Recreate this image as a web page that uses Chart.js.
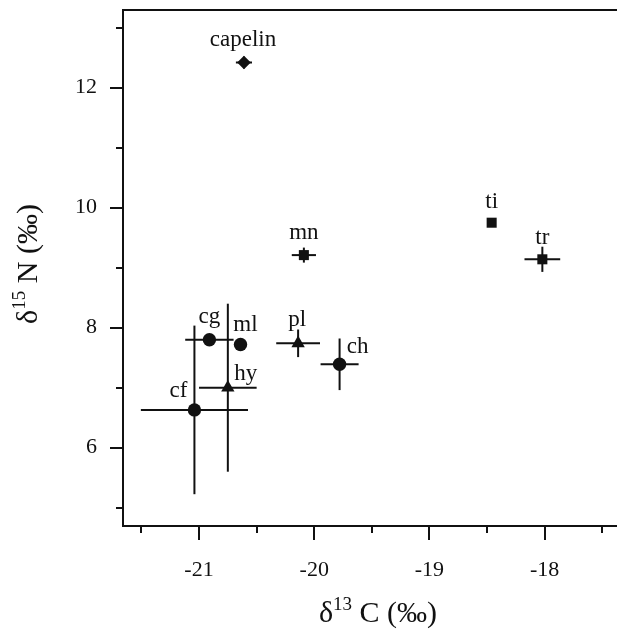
<!DOCTYPE html>
<html>
<head>
<meta charset="utf-8">
<script src="https://cdn.jsdelivr.net/npm/chart.js@4.4.0/dist/chart.umd.min.js"></script>
<style>
html, body { margin: 0; padding: 0; background: #fff; overflow: hidden; }
canvas { display: block; }
</style>
</head>
<body>
<canvas id="isotope-canvas" width="617" height="630" style="width:617px;height:630px"></canvas>
<script>
var species = ["capelin", "mn", "ti", "tr", "cg", "ml", "hy", "cf", "pl", "ch"];
var carbon = [-20.61, -20.09, -18.46, -18.02, -20.91, -20.64, -20.75, -21.04, -20.14, -19.78];
var nitrogen = [12.42, 9.21, 9.75, 9.14, 7.80, 7.72, 7.00, 6.63, 7.74, 7.39];
var carbonErr = [0.07, 0.105, 0, 0.155, 0.21, 0, 0.25, 0.465, 0.19, 0.165];
var nitrogenErr = [0.1, 0.125, 0, 0.21, 0, 0, 1.40, 1.405, 0.23, 0.43];

var xTicks = [-21, -20, -19, -18];
var xMinorTicks = [-21.5, -20.5, -19.5, -18.5, -17.5];
var yTicks = [6, 8, 10, 12];
var yMinorTicks = [5, 7, 9, 11, 13];

var ink = "#111";
var serif = '"Liberation Serif", "Times New Roman", serif';

// marker shape per species
var markerOf = {
    capelin: "rectRot", mn: "rect", ti: "rect", tr: "rect",
    cg: "circle", ml: "circle", cf: "circle", ch: "circle",
    hy: "triangle", pl: "triangle"
};
var markerSize = { circle: 6.7, triangle: 7.7, rect: 7.1, rectRot: 6.8 };

// label offset from the point (px), text baseline
var labelOffset = {
    capelin: [-1, -17], mn: [0, -16], ti: [0, -15], tr: [0, -15],
    cg: [0, -17], ml: [5, -14], hy: [18, -8], cf: [-16, -13],
    pl: [-1, -17], ch: [18, -11]
};

var points = species.map(function(s, i) { return { x: carbon[i], y: nitrogen[i] }; });

var datasets = [{
    label: "species",
    data: points,
    order: 1,
    backgroundColor: ink,
    borderWidth: 0,
    pointStyle: function(c) { return markerOf[species[c.dataIndex]]; },
    pointRadius: function(c) { return markerSize[markerOf[species[c.dataIndex]]]; }
}];

// error bars as short line segments
species.forEach(function(s, i) {
    if (carbonErr[i] > 0) {
        datasets.push({
            label: s + " C err",
            data: [{ x: carbon[i] - carbonErr[i], y: nitrogen[i] }, { x: carbon[i] + carbonErr[i], y: nitrogen[i] }],
            showLine: true, pointRadius: 0, borderColor: ink, borderWidth: 2, order: 2
        });
    }
    if (nitrogenErr[i] > 0) {
        datasets.push({
            label: s + " N err",
            data: [{ x: carbon[i], y: nitrogen[i] - nitrogenErr[i] }, { x: carbon[i], y: nitrogen[i] + nitrogenErr[i] }],
            showLine: true, pointRadius: 0, borderColor: ink, borderWidth: 2, order: 2
        });
    }
});

function drawSupText(ctx, parts, x, y, align) {
    var widths = parts.map(function(p) {
        ctx.font = p[1] + "px " + serif;
        return ctx.measureText(p[0]).width;
    });
    var total = widths.reduce(function(a, b) { return a + b; }, 0);
    var cx = align === "center" ? x - total / 2 : x;
    parts.forEach(function(p, k) {
        ctx.font = p[1] + "px " + serif;
        ctx.fillText(p[0], cx, y - (p[2] || 0));
        cx += widths[k];
    });
}

function noPadding(scale) {
    scale.paddingLeft = 0;
    scale.paddingRight = 0;
    scale.paddingTop = 0;
    scale.paddingBottom = 0;
}

var decorPlugin = {
    id: "isotopeDecor",
    afterDatasetsDraw: function(chart) {
        var ctx = chart.ctx, area = chart.chartArea;
        var xs = chart.scales.x, ys = chart.scales.y;
        ctx.save();
        ctx.strokeStyle = ink;
        ctx.fillStyle = ink;
        ctx.lineWidth = 2;

        // top frame line
        ctx.beginPath();
        ctx.moveTo(area.left - 1, area.top);
        ctx.lineTo(area.right, area.top);
        ctx.stroke();

        // tick marks, major and minor
        ctx.beginPath();
        xTicks.forEach(function(v) {
            var px = Math.round(xs.getPixelForValue(v));
            ctx.moveTo(px, area.bottom); ctx.lineTo(px, area.bottom + 14);
        });
        xMinorTicks.forEach(function(v) {
            var px = Math.round(xs.getPixelForValue(v));
            ctx.moveTo(px, area.bottom); ctx.lineTo(px, area.bottom + 7);
        });
        yTicks.forEach(function(v) {
            var py = Math.round(ys.getPixelForValue(v));
            ctx.moveTo(area.left, py); ctx.lineTo(area.left - 13, py);
        });
        yMinorTicks.forEach(function(v) {
            var py = Math.round(ys.getPixelForValue(v));
            ctx.moveTo(area.left, py); ctx.lineTo(area.left - 7, py);
        });
        ctx.stroke();

        // species labels
        ctx.textAlign = "center";
        ctx.textBaseline = "alphabetic";
        ctx.font = "23px " + serif;
        species.forEach(function(s, i) {
            var off = labelOffset[s];
            ctx.fillText(s, xs.getPixelForValue(carbon[i]) + off[0], ys.getPixelForValue(nitrogen[i]) + off[1]);
        });

        // axis titles with superscripts
        ctx.textAlign = "left";
        drawSupText(ctx, [["\u03b4", 30], ["13", 19, 12], [" C (\u2030)", 30]],
            (area.left + area.right) / 2 + 8, 622, "center");
        ctx.translate(37, (area.top + area.bottom) / 2 - 4);
        ctx.rotate(-Math.PI / 2);
        drawSupText(ctx, [["\u03b4", 30], ["15", 19, 12], [" N (\u2030)", 30]], 0, 0, "center");
        ctx.restore();
    }
};

var ctx = document.getElementById("isotope-canvas").getContext("2d");
window.isotopeChart = new Chart(ctx, {
    type: "scatter",
    data: { datasets: datasets },
    plugins: [decorPlugin],
    options: {
        responsive: false,
        animation: false,
        devicePixelRatio: 1,
        layout: { autoPadding: false, padding: { top: 10, right: 0, bottom: 0, left: 0 } },
        plugins: { legend: { display: false }, tooltip: { enabled: false } },
        scales: {
            x: {
                type: "linear",
                min: -21.66,
                max: -17.372,
                afterBuildTicks: function(scale) {
                    scale.ticks = xTicks.map(function(v) { return { value: v }; });
                },
                afterFit: function(scale) {
                    scale.height = 104;
                    noPadding(scale);
                },
                ticks: {
                    font: { family: serif, size: 22 },
                    color: ink,
                    padding: 31,
                    maxRotation: 0,
                    autoSkip: false
                },
                grid: { display: false, drawTicks: false },
                border: { display: true, width: 2, color: ink }
            },
            y: {
                type: "linear",
                min: 4.695,
                max: 13.295,
                afterBuildTicks: function(scale) {
                    scale.ticks = yTicks.map(function(v) { return { value: v }; });
                },
                afterFit: function(scale) {
                    scale.width = 123;
                    noPadding(scale);
                },
                ticks: {
                    font: { family: serif, size: 22 },
                    color: ink,
                    padding: 26,
                    autoSkip: false
                },
                grid: { display: false, drawTicks: false },
                border: { display: true, width: 2, color: ink }
            }
        }
    }
});
</script>
</body>
</html>
